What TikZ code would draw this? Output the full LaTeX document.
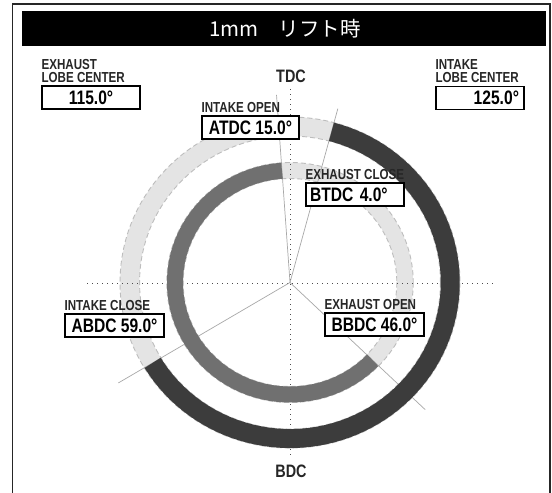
\documentclass[tikz,border=0pt]{standalone}
\usepackage{fontspec}
\newfontfamily\dinfont[FakeStretch=0.8]{Liberation Sans}
\newfontfamily\jpfont{Noto Sans CJK JP}
\usetikzlibrary{positioning}

\definecolor{intakedark}{HTML}{3C3C3C}
\definecolor{exhaustmid}{HTML}{707070}
\definecolor{ringlight}{HTML}{E4E4E4}
\definecolor{ringedge}{HTML}{BDBDBD}
\definecolor{spokegray}{HTML}{A8A8A8}

\tikzset{
  valbox/.style={draw=black, line width=1.2pt, fill=white, minimum width=98pt, minimum height=23pt,
    inner sep=0pt, font=\dinfont\bfseries\fontsize{19.5}{19.5}\selectfont},
  caption/.style={inner sep=0pt, anchor=south west, align=left, text=black!85,
    font=\dinfont\bfseries\fontsize{14.5}{13}\selectfont},
  deadpoint/.style={inner sep=0pt, text=black!85, font=\dinfont\bfseries\fontsize{18}{18}\selectfont},
  axisdots/.style={black!70, line width=0.9pt, dash pattern=on 1.2pt off 3.8pt},
  edgedash/.style={ringedge, line width=0.9pt, dash pattern=on 5pt off 3pt},
  spoke/.style={spokegray, line width=0.7pt}
}

\begin{document}
\begin{tikzpicture}[x=1pt, y=-1pt]
    \pgfmathsetmacro{\ro}{156};   % intake ring
    \pgfmathsetmacro{\wo}{19};
    \pgfmathsetmacro{\ri}{112};   % exhaust ring
    \pgfmathsetmacro{\wi}{16};

    \useasboundingbox (0,0) rectangle (552,493);
    \fill [white] (0,0) rectangle (552,493);

    % frame and title bar
    \draw [black!85, line width=1.8pt] (12.5,493) -- (12.5,4) -- (550,4) -- (550,493);
    \fill [black] (22,11) rectangle (546,46);
    \node [text=white, inner sep=0pt, font=\jpfont\fontsize{20.5}{20.5}\selectfont] (title) at (285,28.5) {1mm　リフト時};

    \coordinate (ctr) at (290,282.5);

    \begin{scope}[shift={(ctr)}, xscale=1.027]
        \draw [ringlight, line width=\wo pt] (0,0) circle [radius=\ro];
        \draw [ringlight, line width=\wi pt] (0,0) circle [radius=\ri];
        \draw [edgedash] (0,0) circle [radius=\ro-\wo/2];
        \draw [edgedash] (0,0) circle [radius=\ro+\wo/2];
        \draw [edgedash] (0,0) circle [radius=\ri-\wi/2];
        \draw [edgedash] (0,0) circle [radius=\ri+\wi/2];
    \end{scope}

    \draw [axisdots] (87,283) -- (493,283);
    \draw [axisdots] (290.5,89) -- (290.5,458);

    \begin{scope}[shift={(ctr)}, xscale=1.027]
        \draw [spoke] (0,0) -- (-75:180);
        \draw [spoke] (0,0) -- (-94:188);
        \draw [spoke] (0,0) -- (44:183);
        \draw [spoke] (0,0) -- (149:195);
        \draw [intakedark, line width=\wo pt] (-75:\ro) arc [start angle=-75, end angle=149, radius=\ro];
        \draw [exhaustmid, line width=\wi pt] (44:\ri) arc [start angle=44, end angle=266, radius=\ri];
    \end{scope}

    \node [deadpoint] (tdc) at (291,76) {TDC};
    \node [deadpoint] (bdc) at (291,471.5) {BDC};

    % lobe centers
    \node [valbox] (exlobe) at (91,97.5) {115.0°};
    \node [caption] (exlobecap) at ([yshift=3pt]exlobe.north west) {EXHAUST\\LOBE CENTER};
    \node [valbox, minimum width=0pt, text width=78pt, inner xsep=5pt, align=right] (inlobe) at (480,98) {125.0°};
    \node [caption] (inlobecap) at ([yshift=3pt]inlobe.north west) {INTAKE\\LOBE CENTER};

    % valve events
    \node [valbox, minimum width=97pt] (io) at (250.5,127.5) {ATDC 15.0°};
    \node [caption] (iocap) at ([yshift=3pt]io.north west) {INTAKE OPEN};
    \node [valbox, minimum width=0pt, text width=90pt, inner xsep=4pt, align=left] (ec) at (355,194.5) {BTDC 4.0°};
    \node [caption] (eccap) at ([yshift=3pt]ec.north west) {EXHAUST CLOSE};
    \node [valbox, minimum width=99pt] (ic) at (114.5,325.5) {ABDC 59.0°};
    \node [caption] (iccap) at ([yshift=3pt]ic.north west) {INTAKE CLOSE};
    \node [valbox, minimum width=99pt] (eo) at (374.5,324.5) {BBDC 46.0°};
    \node [caption] (eocap) at ([yshift=3pt]eo.north west) {EXHAUST OPEN};
\end{tikzpicture}
\end{document}
